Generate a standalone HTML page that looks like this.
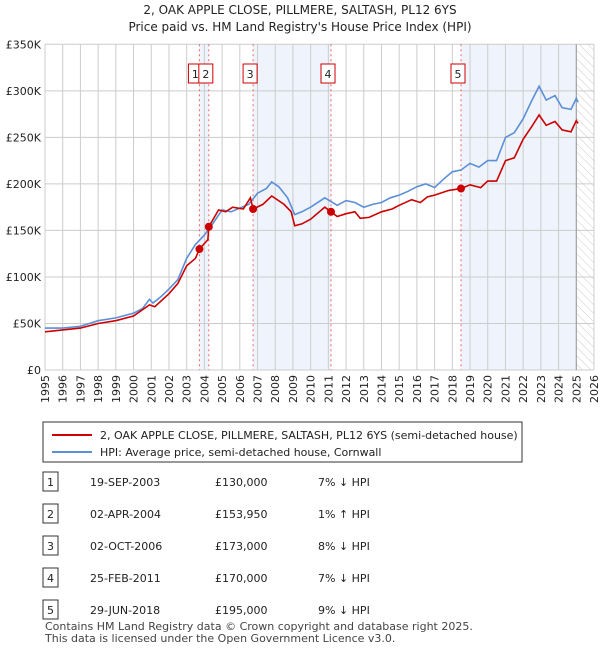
<!DOCTYPE html>
<html><head><meta charset="utf-8"><style>
body{margin:0;background:#fff;font-family:"Liberation Sans","DejaVu Sans",sans-serif;}
svg text{font-family:"DejaVu Sans","Liberation Sans",sans-serif;}
</style></head><body>
<svg id="c" width="600" height="650" xmlns="http://www.w3.org/2000/svg">
<defs><pattern id="hatch" width="6" height="6" patternUnits="userSpaceOnUse" patternTransform="rotate(-45)"><line x1="0" y1="0" x2="0" y2="6" stroke="#ccc" stroke-width="1"/></pattern></defs>
<text x="300" y="14" text-anchor="middle" font-size="12" fill="#222">2, OAK APPLE CLOSE, PILLMERE, SALTASH, PL12 6YS</text>
<text x="300" y="31" text-anchor="middle" font-size="12" fill="#222">Price paid vs. HM Land Registry's House Price Index (HPI)</text>
<g id="plot"></g>
<g>
<rect x="43" y="422" width="479" height="40" fill="#fff" stroke="#333"/>
<line x1="52" y1="435" x2="92" y2="435" stroke="#cc0000" stroke-width="2"/>
<text x="100" y="439" font-size="11" fill="#222">2, OAK APPLE CLOSE, PILLMERE, SALTASH, PL12 6YS (semi-detached house)</text>
<line x1="52" y1="452" x2="92" y2="452" stroke="#5b8fd6" stroke-width="2"/>
<text x="100" y="456" font-size="11" fill="#222">HPI: Average price, semi-detached house, Cornwall</text>
</g>
<g id="table" font-size="11" fill="#222"></g>
<text x="45" y="630" font-size="11" fill="#444">Contains HM Land Registry data © Crown copyright and database right 2025.</text>
<text x="45" y="642" font-size="11" fill="#444">This data is licensed under the Open Government Licence v3.0.</text>
</svg>
<script>
const hpiX=[1995,1996,1997,1997.5,1998,1999,2000,2000.5,2000.9,2001.1,2001.5,2002,2002.5,2003,2003.5,2004,2004.5,2005,2005.5,2006,2006.5,2007,2007.5,2007.8,2008.2,2008.7,2009.1,2009.5,2010,2010.8,2011.5,2012,2012.5,2013,2013.5,2014,2014.5,2015,2015.5,2016,2016.5,2017,2017.5,2018,2018.5,2019,2019.5,2020,2020.5,2021,2021.5,2022,2022.5,2022.9,2023.3,2023.8,2024.2,2024.7,2025,2025.1];
const hpiY=[45,45,47,50,53,56,61,66,76,72,78,87,97,120,135,145,158,172,170,174,178,190,195,202,197,185,167,170,175,185,177,182,180,175,178,180,185,188,192,197,200,196,205,213,215,222,218,225,225,250,255,270,290,305,290,295,282,280,292,288];
const ppX=[1995,1997,1998,1999,2000,2000.9,2001.2,2002,2002.5,2003,2003.5,2003.72,2004.2,2004.25,2004.8,2005.2,2005.6,2006.2,2006.6,2006.75,2007.3,2007.8,2008.5,2008.9,2009.1,2009.5,2010,2010.8,2011.15,2011.5,2012,2012.5,2012.8,2013.3,2014,2014.6,2015,2015.7,2016.2,2016.6,2017,2017.8,2018.5,2019,2019.6,2020,2020.5,2021,2021.5,2022,2022.5,2022.9,2023.3,2023.8,2024.2,2024.7,2025,2025.1];
const ppY=[41,45,50,53,58,70,68,82,93,112,120,130,140,154,172,170,175,173,185,173,178,187,178,170,155,157,162,175,170,165,168,170,163,164,170,173,177,183,180,186,188,193,195,199,196,203,203,225,228,248,262,274,263,267,258,256,268,265];
const saleLabels=["1","2","3","4","5"];
const saleX=[2003.72,2004.25,2006.75,2011.15,2018.49];
const saleY=[130,153.95,173,170,195];
const saleDates=["19-SEP-2003","02-APR-2004","02-OCT-2006","25-FEB-2011","29-JUN-2018"];
const salePrices=["£130,000","£153,950","£173,000","£170,000","£195,000"];
const saleDiffs=["7% ↓ HPI","1% ↑ HPI","8% ↓ HPI","7% ↓ HPI","9% ↓ HPI"];
const yTicks=[0,50,100,150,200,250,300,350];
const yTickLabels=["£0","£50K","£100K","£150K","£200K","£250K","£300K","£350K"];
const bands=[[2003.72,2004.25],[2006.75,2011.15],[2018.49,2025.0]];

const NS="http://www.w3.org/2000/svg";
const X0=45,X1=594,Y0=370,Y1=44.3;
const xs=y=>X0+(y-1995)/(2026-1995)*(X1-X0);
const ys=v=>Y0-v/350*(Y0-Y1);
const plot=document.getElementById('plot');
function mk(t,a,p){const e=document.createElementNS(NS,t);for(const k in a)e.setAttribute(k,a[k]);(p||plot).appendChild(e);return e;}
bands.forEach(b=>{const r=mk('rect',{x:xs(b[0]),y:Y1,width:xs(b[1])-xs(b[0]),height:Y0-Y1,fill:'#eef3fc'});

});
const h=mk('rect',{x:xs(2025),y:Y1,width:X1-xs(2025),height:Y0-Y1,fill:'url(#hatch)'});


for(let yr=1995;yr<=2026;yr++){const x=xs(yr);
const l=mk('line',{x1:x,y1:Y1,x2:x,y2:Y0,stroke:'#ccc','stroke-width':1});


const t=mk('text',{x:0,y:0,transform:`translate(${x+4},${Y0+5}) rotate(-90)`,'text-anchor':'end','font-size':11,fill:'#222'});
t.textContent=yr;

}
yTicks.forEach((v,i)=>{const y=ys(v);
const l=mk('line',{x1:X0,y1:y,x2:X1,y2:y,stroke:'#ccc','stroke-width':1});


const t=mk('text',{x:X0-4,y:y+4,'text-anchor':'end','font-size':11,fill:'#222'});
t.textContent=yTickLabels[i];

});
const vl=mk('line',{x1:xs(2025),y1:Y1,x2:xs(2025),y2:Y0,stroke:'#999','stroke-width':1});


saleX.forEach((sx,i)=>{const l=mk('line',{x1:xs(sx),y1:Y1,x2:xs(sx),y2:Y0,stroke:'#e66','stroke-width':1,'stroke-dasharray':'2,3'});

});
function path(xa,ya,col,name){const d=xa.map((x,i)=>(i?'L':'M')+xs(x).toFixed(1)+','+ys(ya[i]).toFixed(1)).join('');
const p=mk('path',{d:d,fill:'none',stroke:col,'stroke-width':1.6});

}
path(hpiX,hpiY,'#5b8fd6','hpi-line');
path(ppX,ppY,'#cc0000','price-paid-line');
const offs=[-4,-3,-3,-3,-3];
saleX.forEach((sx,i)=>{const c=mk('circle',{cx:xs(sx),cy:ys(saleY[i]),r:4,fill:'#cc0000'});


let cx=xs(sx)+offs[i];if(i==0)cx=xs(sx)-4;if(i==1)cx=xs(sx)-3;
const r=mk('rect',{x:cx-7,y:64,width:14,height:19,fill:'#fff',stroke:'#cc0000'});


const t=mk('text',{x:cx,y:78,'text-anchor':'middle','font-size':11,fill:'#222'});
t.textContent=saleLabels[i];

});
const tb=document.getElementById('table');
saleLabels.forEach((s,i)=>{const y=482+i*32;
const r=mk('rect',{x:43,y:y-10,width:15,height:19,fill:'#fff',stroke:'#333'},tb);


const cells=[[50.5,s,'middle'],[90,saleDates[i],'start'],[215,salePrices[i],'start'],[318,saleDiffs[i],'start']];
cells.forEach(c=>{const t=mk('text',{x:c[0],y:y+4,'text-anchor':c[2]},tb);t.textContent=c[1];

});});
</script>
</body></html>
